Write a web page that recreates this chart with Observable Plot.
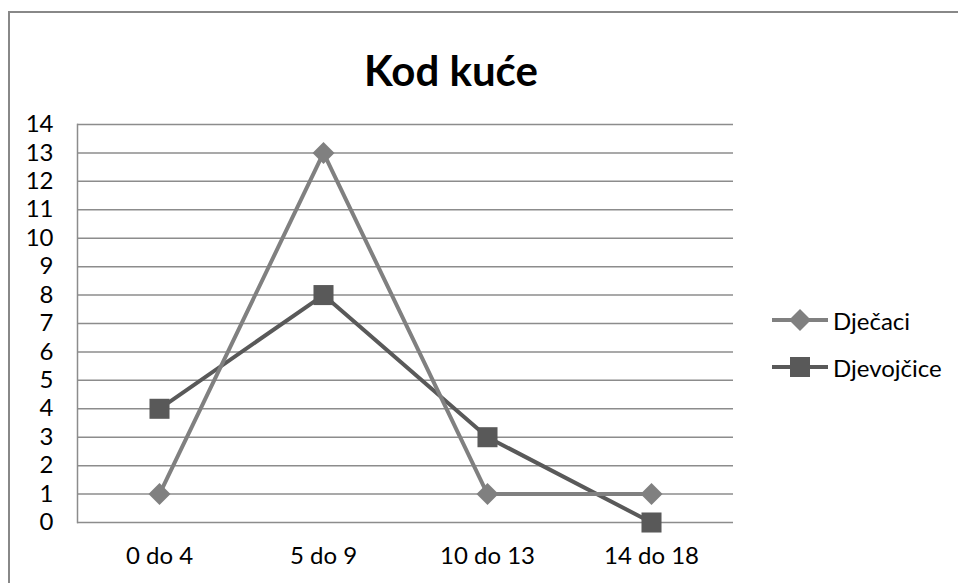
<!DOCTYPE html>
<html>
<head>
<meta charset="utf-8">
<script src="https://cdn.jsdelivr.net/npm/d3@7"></script>
<script src="https://cdn.jsdelivr.net/npm/@observablehq/plot@0.6"></script>
<style>
  html, body { margin: 0; padding: 0; background: #fff; }
  #wrap { position: relative; width: 958px; height: 583px; overflow: hidden; font-family: Lato, "Open Sans", sans-serif; color: #000; }
  #border { position: absolute; left: 8px; top: 11px; right: -10px; bottom: -10px; border-top: 2px solid #888; border-left: 2px solid #888; }
  #title { position: absolute; left: 0; width: 902px; top: 44px; text-align: center; font-size: 42px; font-weight: bold; line-height: 52px; }
  #chart { position: absolute; left: 0; top: 0; }
  .leg { position: absolute; left: 772px; display: flex; align-items: center; font-size: 24px; height: 30px; }
  .leg svg { margin-right: 5px; }
</style>
</head>
<body>
<div id="wrap">
  <div id="border"></div>
  <div id="chart"></div>
  <div id="title">Kod kuće</div>
  <div id="legend"></div>
</div>
<script>
const categories = ["0 do 4", "5 do 9", "10 do 13", "14 do 18"];
const djecaci = [1, 13, 1, 1];
const djevojcice = [4, 8, 3, 0];
const seriesNames = ["Dječaci", "Djevojčice"];
const seriesColors = ["#808080", "#595959"];
const yTicks = [0, 1, 2, 3, 4, 5, 6, 7, 8, 9, 10, 11, 12, 13, 14];

const rows = [];
categories.forEach((c, i) => {
  rows.push({cat: c, value: djecaci[i], series: seriesNames[0]});
  rows.push({cat: c, value: djevojcice[i], series: seriesNames[1]});
});
const boys = rows.filter(d => d.series === seriesNames[0]);
const girls = rows.filter(d => d.series === seriesNames[1]);

const chart = Plot.plot({
  width: 958,
  height: 583,
  marginLeft: 77,
  marginRight: 225,
  marginTop: 124,
  marginBottom: 61,
  style: {fontFamily: "Lato, 'Open Sans', sans-serif", fontSize: "24px", color: "#000", background: "transparent"},
  x: {type: "point", domain: categories, padding: 0.5, label: null},
  y: {domain: [0, 14], label: null},
  marks: [
    Plot.gridY(yTicks, {stroke: "#8c8c8c", strokeOpacity: 1, strokeWidth: 1.5}),
    Plot.frame({anchor: "left", stroke: "#8c8c8c", strokeWidth: 1.5}),
    Plot.axisY(yTicks, {tickSize: 0, tickPadding: 24, fontSize: 24, fill: "#000", label: null}),
    Plot.axisX({tickSize: 0, tickPadding: 24, fontSize: 24, fill: "#000", label: null}),
    Plot.line(girls, {x: "cat", y: "value", stroke: seriesColors[1], strokeWidth: 4}),
    Plot.line(boys, {x: "cat", y: "value", stroke: seriesColors[0], strokeWidth: 4}),
    Plot.dot(girls, {x: "cat", y: "value", symbol: "square", r: 11.3, fill: seriesColors[1]}),
    Plot.dot(boys, {x: "cat", y: "value", symbol: "diamond2", r: 9.9, fill: seriesColors[0]})
  ]
});
document.getElementById("chart").appendChild(chart);

// legend
const legend = document.getElementById("legend");
const legTops = [305, 352];
seriesNames.forEach((name, i) => {
  const item = document.createElement("div");
  item.className = "leg";
  item.style.top = legTops[i] + "px";
  const sym = d3.symbol(i === 0 ? d3.symbolDiamond2 : d3.symbolSquare, i === 0 ? Math.PI * 9.9 * 9.9 : Math.PI * 11.3 * 11.3)();
  item.innerHTML = `<svg width="56" height="30"><line x1="0" x2="56" y1="15" y2="15" stroke="${seriesColors[i]}" stroke-width="4"/><path transform="translate(28,15)" d="${sym}" fill="${seriesColors[i]}"/></svg><span>${name}</span>`;
  legend.appendChild(item);
});
</script>
</body>
</html>
